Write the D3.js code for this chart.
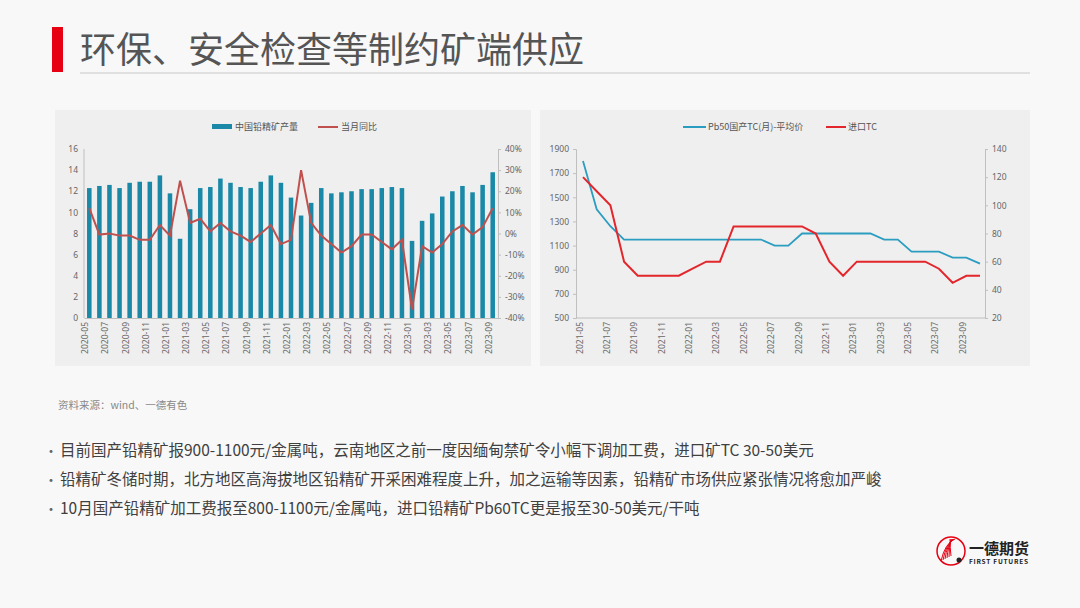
<!DOCTYPE html>
<html><head><meta charset="utf-8">
<script src="https://cdn.jsdelivr.net/npm/d3@7/dist/d3.min.js"></script>
<style>body{margin:0;background:#f8f8f8;font-family:"Noto Sans CJK SC","Noto Sans",sans-serif}</style>
</head><body><svg id="c" width="1080" height="608"></svg>
<script>
const monthsL = ["2020-05","2020-06","2020-07","2020-08","2020-09","2020-10","2020-11","2020-12","2021-01","2021-02","2021-03","2021-04","2021-05","2021-06","2021-07","2021-08","2021-09","2021-10","2021-11","2021-12","2022-01","2022-02","2022-03","2022-04","2022-05","2022-06","2022-07","2022-08","2022-09","2022-10","2022-11","2022-12","2023-01","2023-02","2023-03","2023-04","2023-05","2023-06","2023-07","2023-08","2023-09"];
const output = [12.3,12.5,12.6,12.3,12.8,12.9,12.9,13.5,11.8,7.5,10.3,12.3,12.4,13.2,12.8,12.4,12.3,12.9,13.5,12.8,11.4,9.7,10.9,12.3,11.8,11.9,12.0,12.2,12.2,12.3,12.4,12.3,7.3,9.2,9.9,11.5,12.0,12.5,11.9,12.6,13.8];
const yoy = [12,-0.5,0,-1,-1,-3,-3,4,-1,25,5,7,1,5,1,-1,-4,0,4,-5,-3,30,5,-1,-5,-9,-6,-0.5,-0.5,-4,-7.5,-3,-36,-6,-9,-5,1,4,-0.5,3,12];
const monthsR = ["2021-05","2021-06","2021-07","2021-08","2021-09","2021-10","2021-11","2021-12","2022-01","2022-02","2022-03","2022-04","2022-05","2022-06","2022-07","2022-08","2022-09","2022-10","2022-11","2022-12","2023-01","2023-02","2023-03","2023-04","2023-05","2023-06","2023-07","2023-08","2023-09","2023-10"];
const pb50 = [1800,1400,1260,1150,1150,1150,1150,1150,1150,1150,1150,1150,1150,1150,1100,1100,1200,1200,1200,1200,1200,1200,1150,1150,1050,1050,1050,1000,1000,950];
const importTC = [120,110,100,60,50,50,50,50,55,60,60,85,85,85,85,85,85,80,60,50,60,60,60,60,60,60,55,45,50,50];
const bullets = ["目前国产铅精矿报900-1100元/金属吨，云南地区之前一度因缅甸禁矿令小幅下调加工费，进口矿TC 30-50美元","铅精矿冬储时期，北方地区高海拔地区铅精矿开采困难程度上升，加之运输等因素，铅精矿市场供应紧张情况将愈加严峻","10月国产铅精矿加工费报至800-1100元/金属吨，进口铅精矿Pb60TC更是报至30-50美元/干吨"];

const svg = d3.select("#c");
const txt="#666";
// title
svg.append("rect").attr("x",52).attr("y",27).attr("width",11).attr("height",45).attr("fill","#e60012");
svg.append("text").attr("x",80).attr("y",63).attr("font-size",36).attr("fill","#555").text("环保、安全检查等制约矿端供应");
svg.append("line").attr("x1",80).attr("x2",1030).attr("y1",73).attr("y2",73).attr("stroke","#d9d9d9").attr("stroke-width",1.5);
// panels
svg.append("rect").attr("x",55).attr("y",110).attr("width",476).attr("height",256).attr("fill","#efefef");
svg.append("rect").attr("x",540).attr("y",110).attr("width",490).attr("height",256).attr("fill","#efefef");

function axisStyle(g){g.selectAll("text").attr("fill",txt).attr("font-size",8.5).attr("font-family","Noto Sans, sans-serif");g.selectAll("path,line").attr("stroke","#bfbfbf");}

// LEFT
{
const x = d3.scaleBand().domain(monthsL).range([84,498]).paddingInner(0.55).paddingOuter(0.3);
const y = d3.scaleLinear().domain([0,16]).range([318,149]);
const y2 = d3.scaleLinear().domain([-40,40]).range([318,149]);
const g = svg.append("g");
g.selectAll("rect.b").data(output).join("rect").attr("x",(d,i)=>x(monthsL[i])).attr("width",x.bandwidth())
 .attr("y",d=>y(d)).attr("height",d=>318-y(d)).attr("fill","#1a89a8");
g.append("path").datum(yoy).attr("fill","none").attr("stroke","#c0504d").attr("stroke-width",2)
 .attr("d",d3.line().x((d,i)=>x(monthsL[i])+x.bandwidth()/2).y(d=>y2(d)));
const ya = g.append("g").attr("transform","translate(84,0)").call(d3.axisLeft(y).ticks(8).tickSize(0).tickPadding(6)); axisStyle(ya);ya.select("path").remove();
g.append("line").attr("x1",84).attr("x2",84).attr("y1",149).attr("y2",318).attr("stroke","#bfbfbf");
const ya2 = g.append("g").attr("transform","translate(498,0)").call(d3.axisRight(y2).ticks(8).tickSize(3).tickPadding(4).tickFormat(d=>d+"%")); axisStyle(ya2);
const xa = g.append("g").attr("transform","translate(0,318)").call(d3.axisBottom(x).tickValues(monthsL.filter((d,i)=>i%2==0)).tickSize(0));
axisStyle(xa); xa.selectAll("text").attr("transform","rotate(-90)").attr("text-anchor","end").attr("dx",-4).attr("dy",-4);
g.append("rect").attr("x",212).attr("y",124).attr("width",20).attr("height",5).attr("fill","#1a89a8");
g.append("text").attr("x",235).attr("y",130).attr("font-size",9).attr("fill","#555").text("中国铅精矿产量");
g.append("line").attr("x1",318).attr("x2",338).attr("y1",127).attr("y2",127).attr("stroke","#c0504d").attr("stroke-width",2);
g.append("text").attr("x",341).attr("y",130).attr("font-size",9).attr("fill","#555").text("当月同比");
}
// RIGHT
{
const x = d3.scalePoint().domain(monthsR).range([583,980]);
const y = d3.scaleLinear().domain([500,1900]).range([318,149]);
const y2 = d3.scaleLinear().domain([20,140]).range([318,149]);
const g = svg.append("g");
g.append("path").datum(pb50).attr("fill","none").attr("stroke","#2b9dc0").attr("stroke-width",1.8)
 .attr("d",d3.line().x((d,i)=>x(monthsR[i])).y(d=>y(d)));
g.append("path").datum(importTC).attr("fill","none").attr("stroke","#e3262b").attr("stroke-width",2)
 .attr("d",d3.line().x((d,i)=>x(monthsR[i])).y(d=>y2(d)));
const ya = g.append("g").attr("transform","translate(576,0)").call(d3.axisLeft(y).tickValues(d3.range(500,1901,200)).tickFormat(d3.format("d")).tickSize(3).tickPadding(4)); axisStyle(ya);
const ya2 = g.append("g").attr("transform","translate(985,0)").call(d3.axisRight(y2).ticks(6).tickSize(3).tickPadding(4)); axisStyle(ya2);
const xa = g.append("g").attr("transform","translate(0,318)").call(d3.axisBottom(x).tickValues(monthsR.filter((d,i)=>i%2==0)).tickSize(0));
axisStyle(xa); xa.select("path").attr("d","M576,0H985");
xa.selectAll("text").attr("transform","rotate(-90)").attr("text-anchor","end").attr("dx",-4).attr("dy",-4);
g.append("line").attr("x1",683).attr("x2",706).attr("y1",127).attr("y2",127).attr("stroke","#2b9dc0").attr("stroke-width",2);
g.append("text").attr("x",708).attr("y",130).attr("font-size",9).attr("fill","#555").text("Pb50国产TC(月)-平均价");
g.append("line").attr("x1",826).attr("x2",846).attr("y1",127).attr("y2",127).attr("stroke","#e3262b").attr("stroke-width",2);
g.append("text").attr("x",848).attr("y",130).attr("font-size",9).attr("fill","#555").text("进口TC");
}
svg.append("text").attr("x",58).attr("y",409).attr("font-size",10.5).attr("fill","#888").text("资料来源：wind、一德有色");
bullets.forEach((b,i)=>{
 svg.append("text").attr("x",44).attr("y",456+i*29).attr("font-size",14).attr("fill","#666").text("•");
 svg.append("text").attr("x",60).attr("y",456+i*29).attr("font-size",15.5).attr("fill","#404040").text(b);
});
// logo
const lg = svg.append("g").attr("transform","translate(951,551)");
lg.append("circle").attr("r",14).attr("fill","none").attr("stroke","#e60012").attr("stroke-width",1.5);
d3.range(6).forEach(i=>lg.append("path").attr("d",`M${-10+i*2},${10-i} Q${-6+i},${-8+i} ${4-i},-12`).attr("fill","none").attr("stroke","#e60012").attr("stroke-width",1));
lg.append("circle").attr("cx",8).attr("cy",9).attr("r",2.5).attr("fill","#222");
svg.append("text").attr("x",969).attr("y",554).attr("font-size",15).attr("font-weight","bold").attr("fill","#222").text("一德期货");
svg.append("text").attr("x",969).attr("y",564).attr("font-size",6.5).attr("font-weight","bold").attr("fill","#222").attr("textLength",59).text("FIRST FUTURES");
</script></body></html>
